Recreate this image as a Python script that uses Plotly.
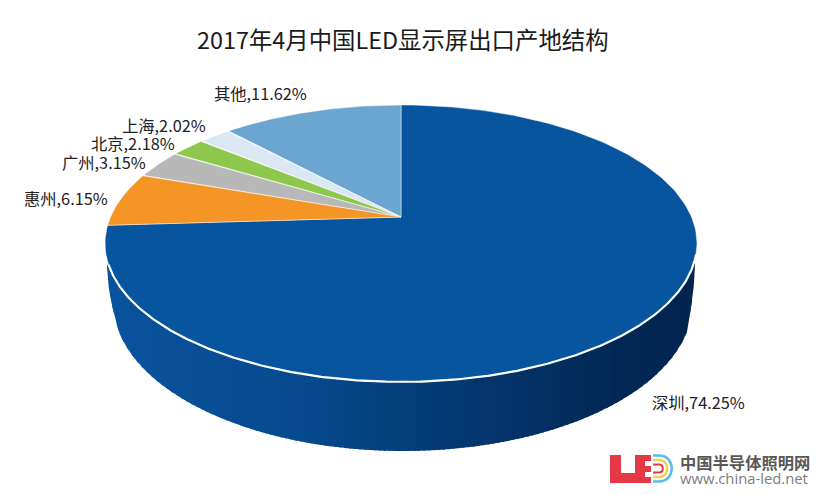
import numpy as np
import plotly.graph_objects as go

# slices, starting at the top of the pie and going counter clockwise
names = ["其他", "上海", "北京", "广州", "惠州", "深圳"]
shares = [11.62, 2.02, 2.18, 3.15, 6.15, 74.25]
slice_colors = ["#6ba6d1", "#dbe8f3", "#8dc84c", "#b8b8b8", "#f49526", "#07549f"]

title_text = "2017年4月中国LED显示屏出口产地结构"
logo_cn = "中国半导体照明网"
logo_url = "www.china-led.net"

# where the labels start (canvas pixels)
label_pos = [(213, 93), (121, 125), (90, 143), (61, 162), (23, 198), (651, 402)]

# pie geometry, pixels. k is the perspective of the tilted disc
cx, cy = 401, 217
rx, ry, k = 290.5, 133.4, 0.191
side_stops = [(107, "#0a539e"), (300, "#074a8f"), (400, "#053f7c"),
              (500, "#04346a"), (600, "#022a58"), (695, "#02254f")]


def rim(theta_deg):
    # the 2.5 is a small twist the original's 3d view has on its sides
    t = np.radians(theta_deg + 2.5 * np.sin(np.radians(theta_deg)) ** 4)
    d = 1 + k * np.cos(t)
    return cx - rx * np.sin(t) / d, cy - ry * np.cos(t) / d


def lower_edge(x):
    # bottom outline of the side wall
    y = 302 + 149 * np.sqrt(np.clip(1 - ((x - 403) / 290) ** 2, 0, 1))
    if x < 120:
        y = 267 + 68 * ((x - 107) / 13) ** 0.6
    if x > 687:
        y = 265 + 65 * ((695 - x) / 8) ** 0.6
    return y


def side_color(x):
    xs = [s[0] for s in side_stops]
    rgb = [[int(s[1][i:i + 2], 16) for i in (1, 3, 5)] for s in side_stops]
    return "rgb(%d,%d,%d)" % tuple(np.interp(x, xs, [c[j] for c in rgb]) for j in range(3))


fig = go.Figure()

# side wall, strips overlap the next one so no seams show
th = np.linspace(107.5, 252.5, 400)
rim_x, rim_y = rim(th)
edges = np.linspace(107, 695, 120)
for a, b in zip(edges[:-1], edges[1:]):
    c = side_color((a + b) / 2)
    b2 = min(b + 2, 695)
    xs = np.linspace(a, b2, 5)
    ys = [lower_edge(v) for v in xs]
    fig.add_scatter(x=np.r_[xs, xs[::-1]],
                    y=np.r_[np.interp(xs, rim_x, rim_y), ys[::-1]],
                    mode="lines", fill="toself", fillcolor=c,
                    line=dict(width=0), hoverinfo="skip")

# top of the pie
cum = np.cumsum([0] + shares) / sum(shares) * 360
order = [5, 0, 1, 2, 3, 4]
for i in order:
    t = np.linspace(cum[i], cum[i + 1], 200)
    px_, py_ = rim(t)
    fig.add_scatter(x=np.r_[cx, px_, cx], y=np.r_[cy, py_, cy],
                    mode="lines", fill="toself", fillcolor=slice_colors[i],
                    line=dict(color="rgba(255,255,255,0.6)", width=0.8), name=names[i],
                    hoverinfo="skip")

# white line between top and side wall
fig.add_scatter(x=rim_x, y=rim_y, mode="lines", line=dict(color="white", width=2.2), hoverinfo="skip")

annotations = [dict(x=403, y=39, text=title_text, showarrow=False, xanchor="center", yanchor="middle",
                    font=dict(size=23.4, color="#1a1a1a"))]
for n, s, p in zip(names, shares, label_pos):
    annotations.append(dict(x=p[0], y=p[1], text="%s,%.2f%%" % (n, s), showarrow=False,
                            xanchor="left", yanchor="middle", borderpad=0,
                            font=dict(size=16.3, color="#222222")))
annotations.append(dict(x=679, y=462, text="<b>%s</b>" % logo_cn, showarrow=False, xanchor="left",
                        yanchor="middle", borderpad=0, font=dict(size=16.3, color="#595757")))
annotations.append(dict(x=679, y=478, text=logo_url, showarrow=False, xanchor="left", yanchor="middle",
                        borderpad=0, font=dict(size=14.8, color="#7d7d7d", family="Open Sans, sans-serif")))

# LED logo
red = "#e63946"
shapes = [
    dict(type="path", path="M610,455 L621,455 L621,473 L635,473 L635,455 L651,455 L651,461 L645,461 L645,466 "
                           "L651,466 L651,472 L645,472 L645,477 L651,477 L651,483 L610,483 Z",
         fillcolor=red, line_width=0),
    dict(type="path", path="M653,455.5 L659,455.5 C676,455.5 676,481.5 659,481.5 L653,481.5",
         line=dict(color="#5cbde8", width=2.5)),
    dict(type="path", path="M653,460 L659,460 C670,460 670,477 659,477 L653,477",
         line=dict(color="#f4d24a", width=2.5)),
    dict(type="path", path="M653,464.5 L659,464.5 C664,464.5 664,472.5 659,472.5 L653,472.5",
         line=dict(color=red, width=2)),
]

fig.update_layout(
    width=820, height=495,
    margin=dict(l=0, r=0, t=0, b=0),
    paper_bgcolor="white", plot_bgcolor="white",
    showlegend=False,
    font=dict(family="Noto Sans CJK SC, sans-serif"),
    xaxis=dict(range=[0, 820], visible=False, fixedrange=True),
    yaxis=dict(range=[495, 0], visible=False, fixedrange=True),
    annotations=annotations,
    shapes=shapes,
)

# the page's default body margin would push the chart 8px off
fig.write_html("out.html", config={"displayModeBar": False},
               post_script="document.body.style.margin='0';document.body.style.overflow='hidden';")
